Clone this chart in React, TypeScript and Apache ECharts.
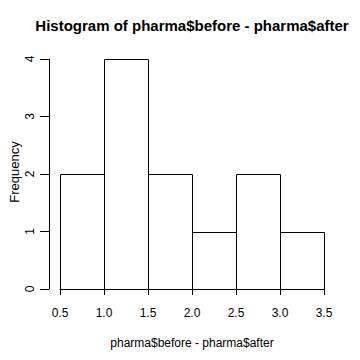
import React, { useEffect, useRef } from "react";
import * as echarts from "echarts";

const binStarts = [0.5, 1.0, 1.5, 2.0, 2.5, 3.0];
const binEnds = [1.0, 1.5, 2.0, 2.5, 3.0, 3.5];
const counts = [2, 4, 2, 1, 2, 1];
const titleText = "Histogram of pharma$before - pharma$after";
const xLabel = "pharma$before - pharma$after";
const yLabel = "Frequency";

const FONT = "Liberation Sans, Arial, sans-serif";

export default function App() {
  const ref = useRef<HTMLDivElement>(null);
  useEffect(() => {
    if (!ref.current) return;
    const chart = echarts.init(ref.current, null, { renderer: "svg" });
    const data = binStarts.map((s, i) => [s, binEnds[i], counts[i]]);
    chart.setOption({
      animation: false,
      backgroundColor: "#ffffff",
      grid: {
        left: 60,
        right: 36,
        top: 59,
        bottom: 71,
        containLabel: false,
        outerBoundsMode: "none",
      },
      xAxis: {
        type: "value",
        min: 0.5,
        max: 3.5,
        interval: 0.5,
        offset: 9,
        splitLine: { show: false },
        axisLine: { show: true, lineStyle: { color: "#000", width: 1 } },
        axisTick: { show: true, length: 6, lineStyle: { color: "#000" } },
        axisLabel: {
          color: "#000",
          fontFamily: FONT,
          fontSize: 12,
          margin: 9,
          formatter: (v: number) => v.toFixed(1),
        },
      },
      yAxis: {
        type: "value",
        min: 0,
        max: 4,
        interval: 1,
        offset: 11,
        splitLine: { show: false },
        axisLine: { show: true, lineStyle: { color: "#000", width: 1 } },
        axisTick: { show: true, length: 9, lineStyle: { color: "#000" } },
        axisLabel: {
          color: "#000",
          fontFamily: FONT,
          fontSize: 12,
          rotate: 90,
          margin: 13,
        },
      },
      graphic: [
        {
          type: "text",
          x: 192,
          y: 25,
          style: {
            text: titleText,
            font: `bold 15px ${FONT}`,
            fill: "#000",
            align: "center",
            verticalAlign: "middle",
          },
        },
        {
          type: "text",
          x: 192,
          y: 343,
          style: {
            text: xLabel,
            font: `12px ${FONT}`,
            fill: "#000",
            align: "center",
            verticalAlign: "middle",
          },
        },
        {
          type: "text",
          x: 14,
          y: 172,
          rotation: Math.PI / 2,
          style: {
            text: yLabel,
            font: `13px ${FONT}`,
            fill: "#000",
            align: "center",
            verticalAlign: "middle",
          },
        },
      ],
      series: [
        {
          type: "custom",
          data,
          encode: { x: [0, 1], y: 2 },
          renderItem: (params: any, api: any) => {
            const p0 = api.coord([api.value(0), api.value(2)]);
            const p1 = api.coord([api.value(1), 0]);
            const x0 = Math.round(p0[0]) + 0.5;
            const y0 = Math.round(p0[1]) + 0.5;
            const x1 = Math.round(p1[0]) + 0.5;
            const y1 = Math.round(p1[1]) + 0.5;
            return {
              type: "rect",
              shape: { x: x0, y: y0, width: x1 - x0, height: y1 - y0 },
              style: { fill: "#fff", stroke: "#000", lineWidth: 1 },
            };
          },
        },
      ],
    });
    return () => chart.dispose();
  }, []);
  return <div ref={ref} style={{ width: 360, height: 360, margin: -8 }} />;
}
